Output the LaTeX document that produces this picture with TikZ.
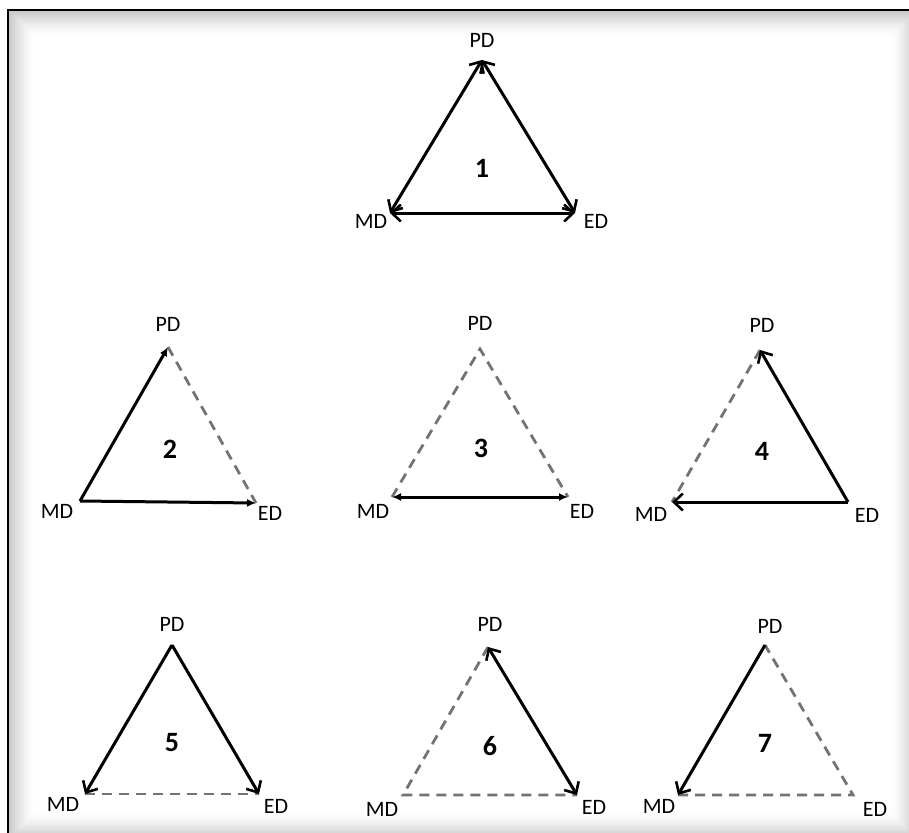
\documentclass[tikz,border=0pt]{standalone}
\usepackage{fontspec}
\setmainfont{Carlito}
\usetikzlibrary{arrows.meta}
\begin{document}
\begin{tikzpicture}[x=1pt,y=-1pt,
 solidedge/.style={line width=3pt, black},
 dashedge/.style={line width=2.8pt, black!55, dash pattern=on 10pt off 7pt},
 chev/.style={arrows={-Straight Barb[length=9pt,width=17pt,line width=2.6pt]}},
 chevboth/.style={arrows={Straight Barb[length=9pt,width=17pt,line width=2.6pt]-Straight Barb[length=9pt,width=17pt,line width=2.6pt]}},
 smalltip/.style={arrows={-Latex[length=9pt,width=8pt]}},
 smallboth/.style={arrows={Latex[length=9pt,width=8pt]-Latex[length=9pt,width=8pt]}},
 lbl/.style={font=\fontsize{22}{24}\selectfont, inner sep=0pt},
 num/.style={font=\fontsize{28}{30}\selectfont\bfseries, inner sep=0pt}
]
\useasboundingbox (0,0) rectangle (909,832);
% frame with inner shadow
\begin{scope}
\clip (0,0) rectangle (909,832);
\fill[white] (0,0) rectangle (909,832);
\foreach \i in {0,...,26} {
  \pgfmathsetmacro\op{0.12*(1-\i/27)^1.5}
  \draw[black, opacity=\op, line width=1.1pt] (8+\i,10+\i) rectangle (917-\i,839-\i);
}
\draw[black, line width=2.4pt] (8,845) -- (8,10) -- (925,10);
\end{scope}

% ---------- triangle 1
\coordinate (P1) at (482,60);
\coordinate (M1) at (390,213);
\coordinate (E1) at (575,213);
\node[lbl] (lp1) at (482,40) {PD};
\node[lbl] (lm1) at (371,221) {MD};
\node[lbl] (le1) at (596,221) {ED};
\node[num] (n1) at (482,168) {1};
\draw[solidedge,chevboth] (M1) -- (P1);
\draw[solidedge,chevboth] (P1) -- (E1);
\draw[solidedge,chevboth] (M1) -- (E1);

% ---------- triangle 2
\coordinate (P2) at (168,347);
\coordinate (M2) at (80,501);
\coordinate (E2) at (256,503);
\node[lbl] (lp2) at (168,324) {PD};
\node[lbl] (lm2) at (57,511) {MD};
\node[lbl] (le2) at (270,513) {ED};
\node[num] (n2) at (170,449) {2};
\draw[dashedge] (P2) -- (E2);
\draw[solidedge,smalltip] (M2) -- (P2);
\draw[solidedge,smalltip] (M2) -- (E2);

% ---------- triangle 3
\coordinate (P3) at (480,349);
\coordinate (M3) at (392,497);
\coordinate (E3) at (568,497);
\node[lbl] (lp3) at (480,323) {PD};
\node[lbl] (lm3) at (373,511) {MD};
\node[lbl] (le3) at (582,511) {ED};
\node[num] (n3) at (481,448) {3};
\draw[dashedge] (M3) -- (P3) -- (E3);
\draw[solidedge,smallboth] (M3) -- (E3);

% ---------- triangle 4
\coordinate (P4) at (760,350);
\coordinate (M4) at (672,502);
\coordinate (E4) at (848,502);
\node[lbl] (lp4) at (762,325) {PD};
\node[lbl] (lm4) at (651,514) {MD};
\node[lbl] (le4) at (867,515) {ED};
\node[num] (n4) at (762,451) {4};
\draw[dashedge] (P4) -- (M4);
\draw[solidedge,chev] (E4) -- (P4);
\draw[solidedge,chev] (E4) -- (M4);

% ---------- triangle 5
\coordinate (P5) at (172,645);
\coordinate (M5) at (85,794);
\coordinate (E5) at (259,794);
\node[lbl] (lp5) at (172,624) {PD};
\node[lbl] (lm5) at (63,804) {MD};
\node[lbl] (le5) at (276,806) {ED};
\node[num] (n5) at (172,743) {5};
\draw[dashedge] (M5) -- (E5);
\draw[solidedge,chev] (P5) -- (M5);
\draw[solidedge,chev] (P5) -- (E5);

% ---------- triangle 6
\coordinate (P6) at (488,647);
\coordinate (M6) at (403,795);
\coordinate (E6) at (577,795);
\node[lbl] (lp6) at (490,624) {PD};
\node[lbl] (lm6) at (382,809) {MD};
\node[lbl] (le6) at (594,807) {ED};
\node[num] (n6) at (490,746) {6};
\draw[dashedge] (P6) -- (M6) -- (E6);
\draw[solidedge,chevboth] (P6) -- (E6);

% ---------- triangle 7
\coordinate (P7) at (765,645);
\coordinate (M7) at (678,795);
\coordinate (E7) at (853,795);
\node[lbl] (lp7) at (770,626) {PD};
\node[lbl] (lm7) at (659,806) {MD};
\node[lbl] (le7) at (875,809) {ED};
\node[num] (n7) at (765,743) {7};
\draw[dashedge] (M7) -- (E7) -- (P7);
\draw[solidedge,chev] (P7) -- (M7);
\end{tikzpicture}
\end{document}
